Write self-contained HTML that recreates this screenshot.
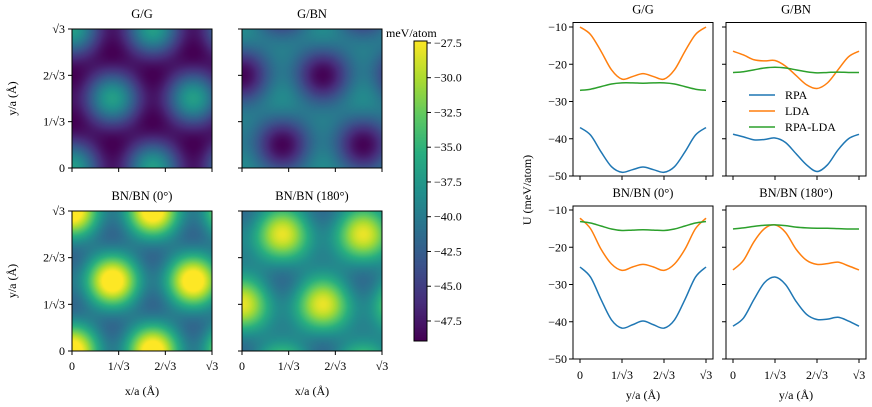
<!DOCTYPE html>
<html><head><meta charset="utf-8">
<style>
html,body{margin:0;padding:0;background:#fff;}
#wrap{position:relative;width:872px;height:407px;overflow:hidden;font-family:"Liberation Serif","DejaVu Serif",serif;}
canvas{position:absolute;}
svg{position:absolute;left:0;top:0;}
text{font-family:"Liberation Serif","DejaVu Serif",serif;fill:#000;}
</style></head>
<body>
<div id="wrap">
<canvas id="hm0" width="140" height="139" style="left:72px;top:29px"></canvas>
<canvas id="hm1" width="140" height="139" style="left:242px;top:29px"></canvas>
<canvas id="hm2" width="140" height="140" style="left:72px;top:211px"></canvas>
<canvas id="hm3" width="140" height="140" style="left:242px;top:211px"></canvas>
<canvas id="cbar" width="13" height="300" style="left:414px;top:41px"></canvas>
<svg id="svg" width="872" height="407" xmlns="http://www.w3.org/2000/svg"></svg>
</div>
<script>
// ---- data (x positions in units of 1/sqrt3 along y/a, 0..3) ----
const cutX = [0,0.25,0.5,0.75,1,1.25,1.5,1.75,2,2.25,2.5,2.75,3];
const panelTitles = ["G/G","G/BN","BN/BN (0°)","BN/BN (180°)"];
const seriesNames = ["RPA","LDA","RPA-LDA"];
const rpaGG   = [-37,-39,-43.5,-47.5,-49,-48.3,-47.6,-48.3,-49,-47.5,-43.5,-39,-37];
const ldaGG   = [-10,-12,-16.5,-21.5,-24,-23.3,-22.5,-23.3,-24,-21.5,-16.5,-12,-10];
const diffGG  = [-27,-26.7,-26,-25.3,-25,-25,-25.1,-25,-25,-25.3,-26,-26.7,-27];
const rpaGBN  = [-38.8,-39.5,-40.3,-40.2,-39.8,-41,-44,-47,-48.8,-47,-43,-40,-38.8];
const ldaGBN  = [-16.5,-17.5,-18.8,-19.1,-19,-20.5,-23,-25.5,-26.5,-25,-21.5,-18,-16.5];
const diffGBN = [-22.2,-22,-21.5,-21,-20.8,-21,-21.5,-22,-22.3,-22.2,-22.1,-22.2,-22.2];
const rpaBN0  = [-25.3,-28,-34,-39.5,-41.7,-40.8,-39.8,-40.8,-41.7,-39.5,-34,-28,-25.3];
const ldaBN0  = [-12.2,-15,-20.5,-24.5,-26.2,-25.3,-24.6,-25.3,-26.2,-24.5,-20.5,-15,-12.2];
const diffBN0 = [-13.1,-13.5,-14.3,-15.1,-15.5,-15.4,-15.3,-15.4,-15.5,-15.1,-14.3,-13.5,-13.1];
const rpaBN180  = [-41.2,-39,-34,-29.5,-28,-30,-34.5,-38,-39.4,-39.3,-38.8,-39.8,-41.2];
const ldaBN180  = [-26.1,-23.5,-18.5,-15,-14,-16,-20.5,-23.5,-24.6,-24.4,-24,-25,-26.1];
const diffBN180 = [-15.1,-14.8,-14.4,-14.1,-14,-14.2,-14.6,-14.8,-14.9,-14.9,-15,-15.1,-15.1];
const yTicks = [-10,-20,-30,-40,-50];
const xTickLabels = ["0","1/√3","2/√3","√3"];
const cbTicks = [-27.5,-30,-32.5,-35,-37.5,-40,-42.5,-45,-47.5];
const vmin = -48.94, vmax = -27.36;

const panels = [[rpaGG,ldaGG,diffGG],[rpaGBN,ldaGBN,diffGBN],[rpaBN0,ldaBN0,diffBN0],[rpaBN180,ldaBN180,diffBN180]];
const colors = ["#1f77b4","#ff7f0e","#2ca02c"];
const NS="http://www.w3.org/2000/svg";
const svg=document.getElementById('svg');
function mk(tag,attrs,parent){const e=document.createElementNS(NS,tag);for(const k in attrs)e.setAttribute(k,attrs[k]);(parent||svg).appendChild(e);return e;}
function txt(s,x,y,anchor,size,parent){const t=mk('text',{x:x,y:y,'text-anchor':anchor||'middle','font-size':size||12},parent);t.textContent=s;return t;}

const vir=[[68,1,84],[71,45,123],[59,82,139],[44,114,142],[33,145,140],[40,174,128],[94,201,98],[173,220,48],[253,231,37]];
function cmap(t){t=Math.max(0,Math.min(1,t));const p=t*8;const i=Math.min(7,Math.floor(p));const f=p-i;const a=vir[i],b=vir[i+1];return [a[0]+(b[0]-a[0])*f,a[1]+(b[1]-a[1])*f,a[2]+(b[2]-a[2])*f];}

const S3=Math.sqrt(3);
const bv=[[1,-1/S3],[0,2/S3],[-1,-1/S3]];
function fg(x,y){let f=0,g=0;for(const b of bv){const p=2*Math.PI*(b[0]*x+b[1]*y);f+=Math.cos(p);g+=Math.sin(p);}return [f,g];}
const gs=2.598;
panels.forEach((pd,k)=>{
  const r=pd[0];const AA=r[0],BA=r[4],AB=r[8];
  const c2=(AB-BA)/(2*gs);const m=(AB+BA)/2;const c1=(AA-m)/4.5;const c0=AA-3*c1;
  const cv=document.getElementById('hm'+k);const ctx=cv.getContext('2d');
  const W=cv.width,H=cv.height;const img=ctx.createImageData(W,H);
  for(let j=0;j<H;j++)for(let i=0;i<W;i++){
    const x=(i+0.5)/W*S3,y=(1-(j+0.5)/H)*S3;const q=fg(x,y);
    const E=c0+c1*q[0]+c2*q[1];const c=cmap((E-vmin)/(vmax-vmin));
    const o=(j*W+i)*4;img.data[o]=c[0];img.data[o+1]=c[1];img.data[o+2]=c[2];img.data[o+3]=255;}
  ctx.putImageData(img,0,0);
});
(function(){const cv=document.getElementById('cbar');const ctx=cv.getContext('2d');for(let j=0;j<300;j++){const c=cmap(1-(j+0.5)/300);ctx.fillStyle=`rgb(${c[0]|0},${c[1]|0},${c[2]|0})`;ctx.fillRect(0,j,13,1);}})();

const hmBoxes=[[72,29,140,139],[242,29,140,139],[72,211,140,140],[242,211,140,140]];
hmBoxes.forEach((bx,k)=>{
  const [x0,y0,w,h]=bx;const g=mk('g',{});
  
  
  mk('rect',{x:x0,y:y0,width:w,height:h,fill:'none',stroke:'#000','stroke-width':1},g);
  const tt=txt(panelTitles[k],x0+w/2,y0-11,'middle',12.5,g);
  
  
  for(let t=0;t<4;t++){
    const px=x0+t*w/3, py=y0+h-t*h/3;
    mk('line',{x1:px,y1:y0+h,x2:px,y2:y0+h+4,stroke:'#000'},g);
    mk('line',{x1:x0,y1:py,x2:x0-4,y2:py,stroke:'#000'},g);
    if(k>=2){const l=txt(xTickLabels[t],px,y0+h+19,'middle',12,g);}
    if(k%2==0){const l=txt(xTickLabels[t],x0-7,py+4,'end',12,g);}
  }
  if(k>=2){const l=txt('x/a (Å)',x0+w/2,395,'middle',12,g);}
  if(k%2==0){const l=txt('y/a (Å)',0,0,'middle',12,g);l.setAttribute('transform',`translate(16,${y0+h/2}) rotate(-90)`);}
});
(function(){const g=mk('g',{});
  mk('rect',{x:414,y:41,width:13,height:300,fill:'none',stroke:'#000'},g);
  cbTicks.forEach(v=>{const y=41+(vmax-v)/(vmax-vmin)*300;mk('line',{x1:427,y1:y,x2:431,y2:y,stroke:'#000'},g);
    const l=txt('−'+Math.abs(v).toFixed(1),434,y+4,'start',12,g);});
  const l=txt('meV/atom',386,37,'start',12,g);
})();

const lpBoxes=[{fx:573,fw:140,x0:580,ty:22.5,y10:27},{fx:726,fw:140,x0:733,ty:22.5,y10:27},{fx:573,fw:140,x0:580,ty:206,y10:210},{fx:726,fw:140,x0:733,ty:206,y10:210}];
const ppu=3.725, pxu=42;
function pathFrom(xs,ys){let d=`M${xs[0]},${ys[0]}`;for(let i=0;i<xs.length-1;i++){const p0=i>0?i-1:i,p3=i+2<xs.length?i+2:i+1;
  const c1x=xs[i]+(xs[i+1]-xs[p0])/6,c1y=ys[i]+(ys[i+1]-ys[p0])/6,c2x=xs[i+1]-(xs[p3]-xs[i])/6,c2y=ys[i+1]-(ys[p3]-ys[i])/6;
  d+=` C${c1x},${c1y} ${c2x},${c2y} ${xs[i+1]},${ys[i+1]}`;}return d;}
lpBoxes.forEach((b,k)=>{
  const g=mk('g',{});
  const X=u=>b.x0+u*pxu, Y=v=>b.y10+(-10-v)*ppu;
  const bottom=Y(-50);
  panels[k].forEach((s,si)=>{
    const p=mk('path',{d:pathFrom(cutX.map(X),s.map(Y)),fill:'none',stroke:colors[si],'stroke-width':1.5},g);
    
    
  });
  mk('rect',{x:b.fx,y:b.ty,width:b.fw,height:bottom-b.ty,fill:'none',stroke:'#000'},g);
  const tt=txt(panelTitles[k],b.fx+b.fw/2,b.ty-9,'middle',12.5,g);
  yTicks.forEach(v=>{const y=Y(v);mk('line',{x1:b.fx,y1:y,x2:b.fx-4,y2:y,stroke:'#000'},g);
    if(k%2==0){const l=txt('−'+Math.abs(v),b.fx-6,y+4,'end',12,g);}});
  for(let t=0;t<4;t++){const x=X(t);mk('line',{x1:x,y1:bottom,x2:x,y2:bottom+4,stroke:'#000'},g);
    if(k>=2){const l=txt(xTickLabels[t],x,bottom+20,'middle',12,g);}}
  if(k>=2){const l=txt('y/a (Å)',b.fx+b.fw/2,399,'middle',12,g);}
});
(function(){const l=txt('U (meV/atom)',0,0,'middle',12);l.setAttribute('transform','translate(531,190) rotate(-90)');})();
(function(){const g=mk('g',{});
  seriesNames.forEach((n,i)=>{const y=95+i*16;const e=mk('g',{},g);
    mk('line',{x1:749,y1:y,x2:775,y2:y,stroke:colors[i],'stroke-width':1.5},e);txt(n,785,y+4,'start',12,e);});})();
</script>
</body></html>
